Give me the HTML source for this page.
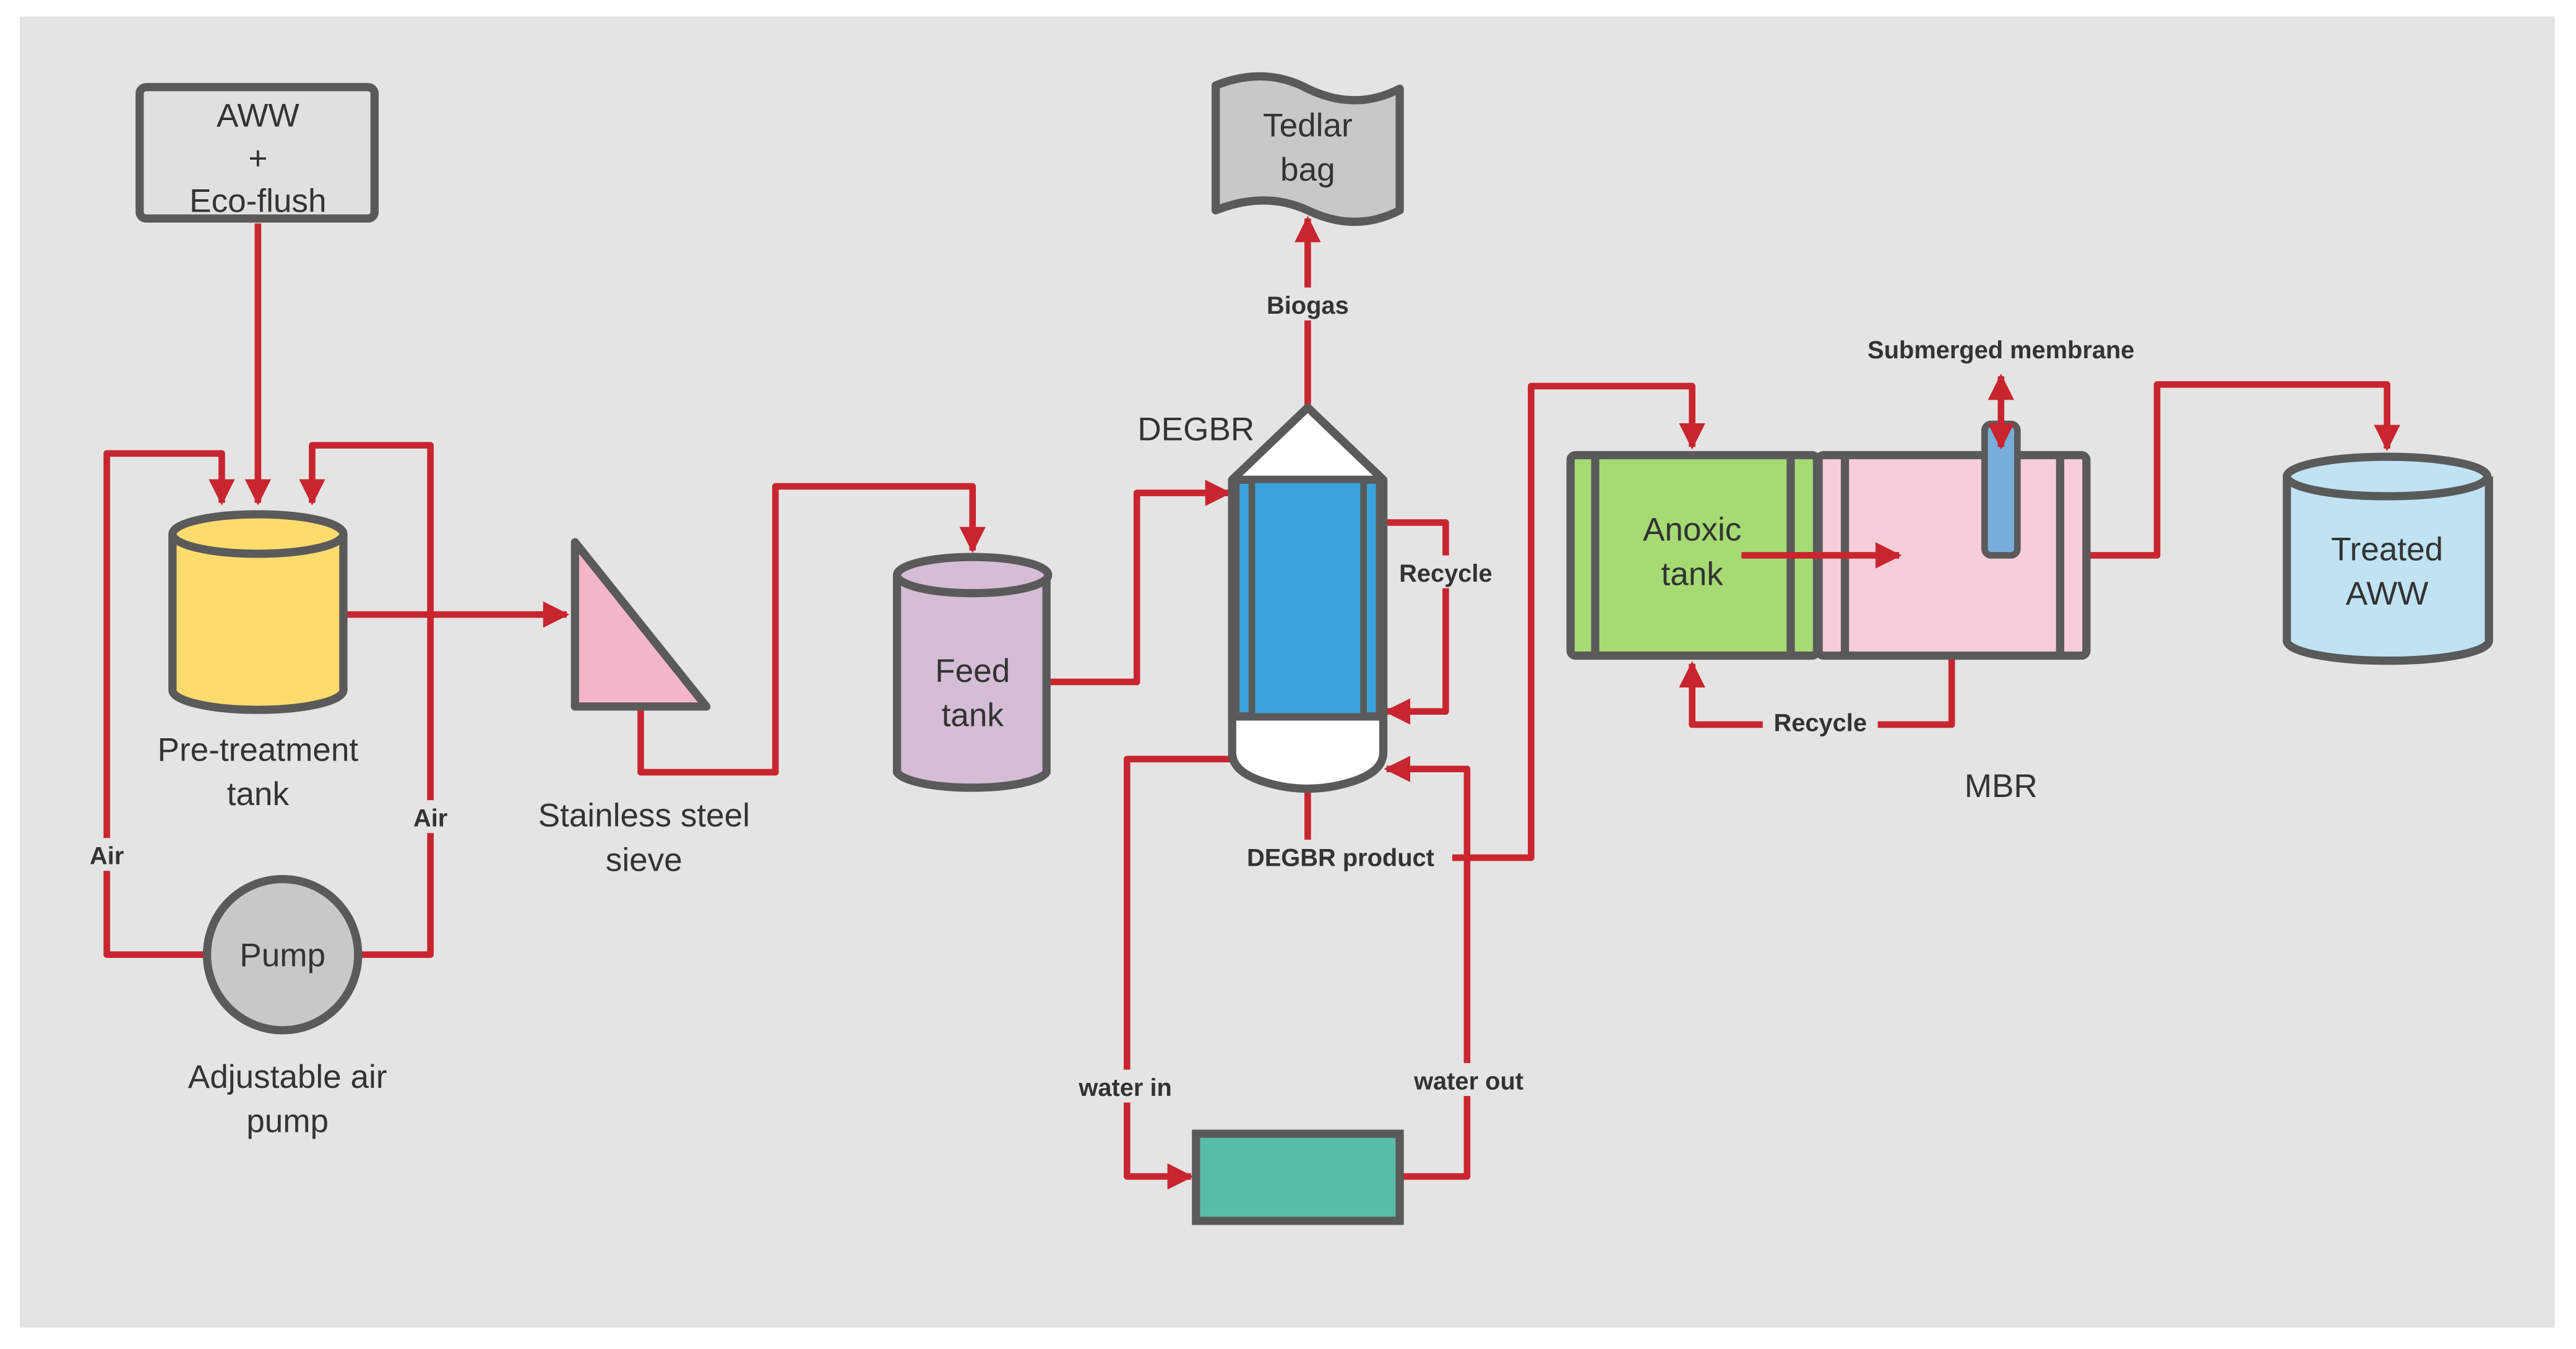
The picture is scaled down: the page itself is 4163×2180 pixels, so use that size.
<!DOCTYPE html>
<html><head><meta charset="utf-8"><style>
html,body{margin:0;padding:0;background:#fff;}
svg{display:block;}
text{font-family:"Liberation Sans",sans-serif;fill:#333;text-anchor:middle;}
.b{font-weight:bold;font-size:15px;fill:#222;}
.n{font-size:20px;}
</style></head><body>
<svg width="4163" height="2180" viewBox="0 0 1568 821" preserveAspectRatio="none" xmlns="http://www.w3.org/2000/svg">
<defs>
<marker id="a" viewBox="0 0 10 10" refX="9" refY="5" markerWidth="4" markerHeight="4" orient="auto-start-reverse" markerUnits="strokeWidth"><path d="M0,0 L10,5 L0,10 z" fill="#c9252f"/></marker>
</defs>
<rect x="12" y="10" width="1543" height="798" fill="#e4e4e4"/>
<g fill="none" stroke="#c9252f" stroke-width="4" stroke-linejoin="round">
<path d="M157,136 V306" marker-end="url(#a)"/>
<path d="M126,581 H65 V276 H135 V306" marker-end="url(#a)"/>
<path d="M218,581 H262 V271 H190 V306" marker-end="url(#a)"/>
<path d="M209,374 H345" marker-end="url(#a)"/>
<path d="M390,430 V470 H472 V296 H592 V335" marker-end="url(#a)"/>
<path d="M637,415 H692 V300 H748" marker-end="url(#a)"/>
<path d="M796,248 V133" marker-end="url(#a)"/>
<path d="M842,318 H880 V433 H844" marker-end="url(#a)"/>
<path d="M750,462 H686 V716 H725" marker-end="url(#a)"/>
<path d="M852,716 H893 V468 H844" marker-end="url(#a)"/>
<path d="M796,482 V522 H932 V235 H1030 V272" marker-end="url(#a)"/>
<path d="M1188,400 V441 H1030 V404" marker-end="url(#a)"/>
<path d="M1270,338 H1313 V234 H1453 V273" marker-end="url(#a)"/>
</g>
<g stroke="#5a5a5a" stroke-width="5">
<rect x="85" y="53" width="143" height="80" rx="4" fill="#e0e0e0"/>
<path d="M105,325 V420 A52,12 0 0 0 209,420 V325" fill="#fddc6e"/>
<ellipse cx="157" cy="325" rx="52" ry="12" fill="#fddc6e"/>
<circle cx="172" cy="581" r="46" fill="#c8c8c8"/>
<path d="M350,330 L350,430 L430,430 Z" fill="#f4b6c6" stroke-linejoin="round"/>
<path d="M546,350 V470 A46,11 0 0 0 637,470 V350" fill="#d5bdd5"/>
<ellipse cx="592" cy="350" rx="46" ry="11" fill="#d5bdd5"/>
<path d="M750,436 V458 Q750,470 770,476 Q796,484 822,476 Q842,470 842,458 V436 Z" fill="#fff"/>
<path d="M750,292 L796,248 L842,292 V436 H750 Z" fill="#fff" stroke-linejoin="round"/>
<rect x="752" y="292" width="88" height="144" fill="#3aa3dc"/>
<path d="M750,292 V436 M842,292 V436" />
<rect x="762" y="292" width="68" height="144" fill="#3aa3dc" stroke-width="4"/>
<path d="M740,52 Q770,40 796,54 Q825,68 852,54 V128 Q825,142 796,128 Q770,116 740,128 Z" fill="#c8c8c8" stroke-linejoin="round"/>
<rect x="728" y="690" width="124" height="53" fill="#58bda6"/>
<rect x="956" y="277" width="150" height="122" rx="3" fill="#a6db74"/>
<path d="M971,277 V399 M1090,277 V399"/>
<rect x="1107" y="277" width="163" height="122" rx="3" fill="#f8cdd9"/>
<path d="M1123,277 V399 M1254,277 V399"/>
<rect x="1208" y="258" width="20" height="80" rx="4" fill="#78aedc" stroke-width="4"/>
<path d="M1392,290 V390 A61,12 0 0 0 1515,390 V290" fill="#bfe3f3"/>
<ellipse cx="1453" cy="290" rx="61" ry="12" fill="#bfe3f3"/>
</g>
<path d="M1060,338 H1156" stroke="#c9252f" stroke-width="4" marker-end="url(#a)"/>
<path d="M1218,229 V272" stroke="#c9252f" stroke-width="4" fill="none" marker-end="url(#a)" marker-start="url(#a)"/>
<g class="n">
<text x="157" y="77">AWW</text><text x="157" y="103">+</text><text x="157" y="129">Eco-flush</text>
<text x="157" y="463">Pre-treatment</text><text x="157" y="490">tank</text>
<text x="172" y="588">Pump</text>
<text x="175" y="662">Adjustable air</text><text x="175" y="689">pump</text>
<text x="392" y="503">Stainless steel</text><text x="392" y="530">sieve</text>
<text x="592" y="415">Feed</text><text x="592" y="442">tank</text>
<text x="728" y="268">DEGBR</text>
<text x="796" y="83">Tedlar</text><text x="796" y="110">bag</text>
<text x="1030" y="329">Anoxic</text><text x="1030" y="356">tank</text>
<text x="1218" y="485">MBR</text>
<text x="1453" y="341">Treated</text><text x="1453" y="368">AWW</text>
</g>
<g class="b">
<rect x="50" y="510" width="30" height="20" fill="#e4e4e4"/><text x="65" y="526">Air</text>
<rect x="247" y="487" width="30" height="20" fill="#e4e4e4"/><text x="262" y="503">Air</text>
<rect x="764" y="175" width="64" height="20" fill="#e4e4e4"/><text x="796" y="191">Biogas</text>
<rect x="845" y="338" width="70" height="20" fill="#e4e4e4"/><text x="880" y="354">Recycle</text>
<rect x="748" y="511" width="136" height="20" fill="#e4e4e4"/><text x="816" y="527">DEGBR product</text>
<rect x="648" y="651" width="74" height="20" fill="#e4e4e4"/><text x="685" y="667">water in</text>
<rect x="852" y="647" width="84" height="20" fill="#e4e4e4"/><text x="894" y="663">water out</text>
<text x="1218" y="218">Submerged membrane</text>
<rect x="1073" y="430" width="70" height="20" fill="#e4e4e4"/><text x="1108" y="445">Recycle</text>
</g>
</svg>
</body></html>
